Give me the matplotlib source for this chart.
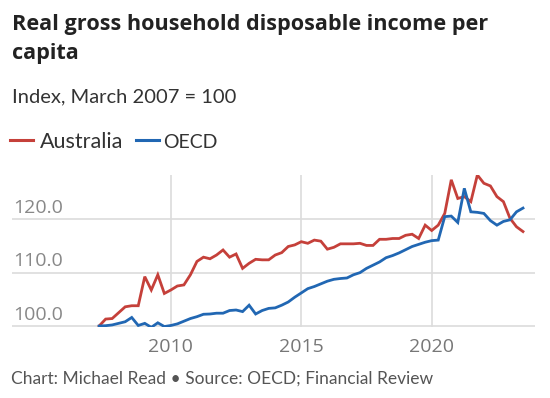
import matplotlib
matplotlib.use("Agg")
import matplotlib.pyplot as plt
from matplotlib.lines import Line2D
import pandas as pd

# quarterly index, March 2007 = 100
quarters = pd.period_range("2007Q1", "2023Q2", freq="Q")
australia = [100.0, 101.3, 101.4, 102.5, 103.6, 103.8, 103.8, 109.25, 106.75, 109.6,
             106.1, 106.75, 107.5, 107.7, 109.6, 112.1, 112.9, 112.6, 113.3, 114.25,
             112.9, 113.5, 110.8, 111.75, 112.5, 112.4, 112.4, 113.3, 113.75, 114.9,
             115.2, 115.8, 115.5, 116.1, 115.9, 114.4, 114.75, 115.4, 115.4, 115.4,
             115.5, 115.1, 115.1, 116.25, 116.25, 116.4, 116.4, 117.0, 117.2, 116.4,
             118.9, 117.9, 118.9, 121.1, 127.4, 123.9, 124.25, 123.3, 128.3, 126.75,
             126.25, 124.25, 123.3, 120.2, 118.6, 117.7]
oecd = [100.0, 100.06, 100.2, 100.5, 100.8, 101.6, 100.1, 100.5, 99.75, 100.6,
        99.9, 100.1, 100.4, 100.9, 101.4, 101.75, 102.2, 102.25, 102.4, 102.4,
        102.9, 103.0, 102.7, 103.9, 102.25, 102.9, 103.3, 103.4, 103.9, 104.5,
        105.4, 106.2, 107.0, 107.4, 107.9, 108.4, 108.75, 108.9, 109.0, 109.6,
        110.0, 110.8, 111.4, 112.0, 112.8, 113.2, 113.7, 114.3, 114.9, 115.3,
        115.7, 116.0, 116.1, 120.5, 120.6, 119.4, 125.8, 121.4, 121.3, 121.1,
        119.75, 118.9, 119.6, 119.9, 121.4, 122.1]
yticks = [100, 110, 120]
xticks = [2010, 2015, 2020]

RED = "#c5403a"
BLUE = "#2167b3"
GRID = "#dcdcdc"
plt.rcParams["font.family"] = ["Lato", "DejaVu Sans"]
TICKFONT = ["Open Sans", "DejaVu Sans"]

x = [q.year + q.quarter / 4 for q in quarters]

fig = plt.figure(figsize=(5.5, 3.98), dpi=100)
ax = fig.add_axes([12 / 550, 71.3 / 398, 523 / 550, 151.7 / 398])

ax.plot(x, australia, color=RED, lw=2.0, solid_joinstyle="miter", zorder=3)
ax.plot(x, oecd, color=BLUE, lw=2.0, solid_joinstyle="miter", zorder=4)

ax.set_xlim(2003.91, 2023.96)
ax.set_ylim(99.87, 128.3)
ax.set_yticks(yticks)
ax.set_xticks(xticks)
ax.set_yticklabels([])
ax.set_xticklabels([str(t) for t in xticks], fontsize=14, color="#777777", family=TICKFONT)
ax.tick_params(length=0, pad=8)
ax.grid(True, color=GRID, lw=1.2)
for s in ax.spines.values():
    s.set_visible(False)

# y labels sit above the gridlines at the left edge
for v in yticks:
    ax.annotate(f"{v:.1f}", xy=(0, v), xycoords=("axes fraction", "data"),
                xytext=(0.5, 4.5), textcoords="offset points",
                ha="left", va="baseline", fontsize=14, color="#888888", family=TICKFONT)

fig.text(12 / 550, 1 - 30 / 398, "Real gross household disposable income per",
         fontsize=15.6, fontweight="bold", color="#222222", va="baseline",
         family=["Open Sans", "DejaVu Sans"])
fig.text(12 / 550, 1 - 59.5 / 398, "capita",
         fontsize=15.6, fontweight="bold", color="#222222", va="baseline",
         family=["Open Sans", "DejaVu Sans"])
fig.text(12 / 550, 1 - 102.7 / 398, "Index, March 2007 = 100",
         fontsize=14.5, color="#333333", va="baseline")

# legend
fig.add_artist(Line2D([10 / 550, 33 / 550], [1 - 140 / 398] * 2, color=RED, lw=2.2))
fig.text(40 / 550, 1 - 147.7 / 398, "Australia", fontsize=15.5, color="#333333", va="baseline")
fig.add_artist(Line2D([136 / 550, 159 / 550], [1 - 140 / 398] * 2, color=BLUE, lw=2.2))
fig.text(163 / 550, 1 - 147.7 / 398, "OECD", fontsize=14, color="#333333", va="baseline")

fig.text(11 / 550, 1 - 383.3 / 398, "Chart: Michael Read \u2022 Source: OECD; Financial Review",
         fontsize=12.5, color="#555555", va="baseline")

fig.savefig("out.png", dpi=100, facecolor="white")
